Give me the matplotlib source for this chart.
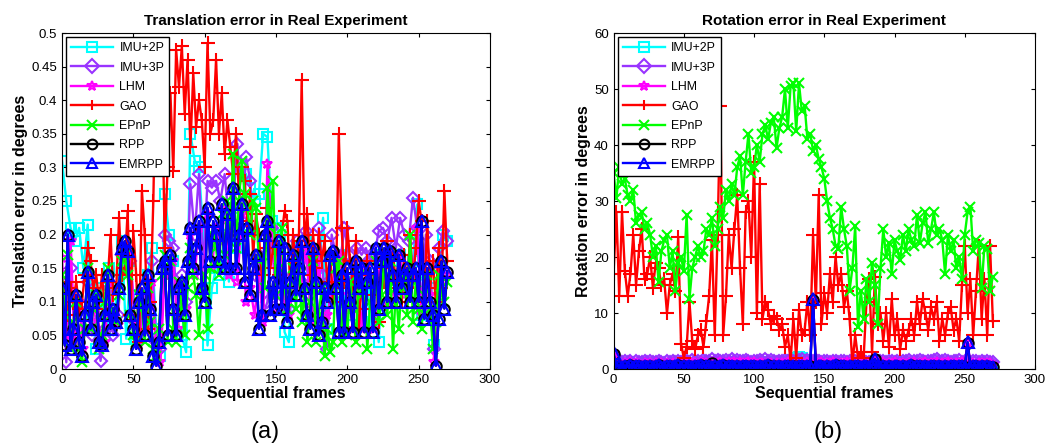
import numpy as np
import matplotlib
matplotlib.use('Agg')
import matplotlib.pyplot as plt
from matplotlib.ticker import FormatStrFormatter, MultipleLocator

plt.rcParams.update({
    'font.family': ['Liberation Sans', 'DejaVu Sans'],
    'font.size': 8.5,
    'xtick.direction': 'in',
    'ytick.direction': 'in',
    'xtick.top': True,
    'ytick.right': True,
})

# frame index: every 3rd frame for the mostly hidden curves, every 2nd for the busy ones
frames3 = list(range(0, 271, 3))
frames2 = list(range(0, 271, 2))

labels = ['IMU+2P', 'IMU+3P', 'LHM', 'GAO', 'EPnP', 'RPP', 'EMRPP']

# ---- translation error (panel a) ----
imu2p_t = [0.31, 0.25, 0.21, 0.19, 0.21, 0.15, 0.215, 0.08, 0.03, 0.12,
           0.05, 0.15, 0.07, 0.12, 0.19, 0.045, 0.16, 0.045, 0.11, 0.09,
           0.14, 0.18, 0.06, 0.02, 0.26, 0.20, 0.16, 0.07, 0.05, 0.025,
           0.35, 0.31, 0.30, 0.20, 0.035, 0.12, 0.15, 0.14, 0.20, 0.13,
           0.24, 0.18, 0.20, 0.29, 0.27, 0.25, 0.26, 0.35, 0.345, 0.22,
           0.21, 0.20, 0.055, 0.04, 0.17, 0.18, 0.15, 0.19, 0.17, 0.12,
           0.15, 0.225, 0.06, 0.12, 0.15, 0.17, 0.10, 0.13, 0.08, 0.14,
           0.07, 0.15, 0.065, 0.12, 0.04, 0.17, 0.15, 0.16, 0.12, 0.17,
           0.13, 0.15, 0.16, 0.245, 0.08, 0.14, 0.12, 0.035, 0.15, 0.20, 0.19]
imu3p_t = [0.14, 0.01, 0.15, 0.05, 0.09, 0.06, 0.13, 0.05, 0.08, 0.012,
           0.06, 0.12, 0.05, 0.08, 0.17, 0.18, 0.16, 0.07, 0.05, 0.12,
           0.07, 0.16, 0.04, 0.03, 0.20, 0.19, 0.18, 0.08, 0.14, 0.10,
           0.275, 0.20, 0.29, 0.15, 0.28, 0.27, 0.28, 0.25, 0.29, 0.22,
           0.25, 0.335, 0.22, 0.315, 0.28, 0.14, 0.17, 0.08, 0.10, 0.21,
           0.10, 0.18, 0.11, 0.09, 0.14, 0.19, 0.13, 0.205, 0.11, 0.08,
           0.21, 0.14, 0.03, 0.20, 0.17, 0.16, 0.21, 0.17, 0.13, 0.18,
           0.17, 0.18, 0.16, 0.17, 0.205, 0.21, 0.19, 0.225, 0.18, 0.225,
           0.20, 0.19, 0.255, 0.21, 0.09, 0.20, 0.16, 0.03, 0.18, 0.205, 0.19]
lhm_t = [0.165, 0.05, 0.19, 0.04, 0.10, 0.03, 0.14, 0.07, 0.09, 0.05,
         0.04, 0.13, 0.07, 0.065, 0.17, 0.18, 0.17, 0.07, 0.035, 0.09,
         0.06, 0.13, 0.03, 0.01, 0.14, 0.15, 0.16, 0.06, 0.11, 0.09,
         0.20, 0.14, 0.21, 0.11, 0.23, 0.15, 0.21, 0.19, 0.24, 0.14,
         0.26, 0.13, 0.23, 0.10, 0.12, 0.08, 0.14, 0.07, 0.305, 0.21,
         0.09, 0.18, 0.10, 0.08, 0.12, 0.16, 0.12, 0.18, 0.09, 0.07,
         0.17, 0.06, 0.08, 0.11, 0.16, 0.17, 0.06, 0.11, 0.06, 0.14,
         0.06, 0.15, 0.14, 0.06, 0.14, 0.17, 0.10, 0.17, 0.11, 0.17,
         0.11, 0.13, 0.14, 0.21, 0.08, 0.14, 0.11, 0.01, 0.15, 0.13, 0.14]
gao_t = [0.13, 0.11, 0.08, 0.12, 0.10, 0.13, 0.09, 0.10, 0.14, 0.18,
         0.16, 0.12, 0.14, 0.10, 0.14, 0.09, 0.13, 0.20, 0.11, 0.12,
         0.225, 0.14, 0.15, 0.235, 0.08, 0.205, 0.14, 0.04, 0.265, 0.20,
         0.06, 0.10, 0.25, 0.47, 0.30, 0.45, 0.18, 0.30, 0.41, 0.295,
         0.475, 0.42, 0.48, 0.38, 0.46, 0.33, 0.44, 0.36, 0.40, 0.37,
         0.30, 0.485, 0.35, 0.37, 0.46, 0.35, 0.41, 0.32, 0.37, 0.33,
         0.29, 0.35, 0.26, 0.30, 0.28, 0.22, 0.26, 0.17, 0.23, 0.20,
         0.14, 0.18, 0.24, 0.15, 0.18, 0.19, 0.14, 0.20, 0.235, 0.22,
         0.12, 0.20, 0.15, 0.19, 0.43, 0.19, 0.23, 0.14, 0.20, 0.15,
         0.20, 0.16, 0.19, 0.13, 0.17, 0.10, 0.12, 0.35, 0.21, 0.13,
         0.21, 0.16, 0.12, 0.19, 0.06, 0.13, 0.09, 0.16, 0.14, 0.11,
         0.16, 0.07, 0.15, 0.13, 0.19, 0.12, 0.17, 0.13, 0.16, 0.10,
         0.17, 0.12, 0.20, 0.13, 0.18, 0.25, 0.22, 0.10, 0.22, 0.12,
         0.16, 0.10, 0.18, 0.12, 0.265, 0.16]
epnp_t = [0.14, 0.08, 0.17, 0.03, 0.07, 0.10, 0.03, 0.01, 0.06, 0.15,
          0.06, 0.09, 0.11, 0.03, 0.05, 0.10, 0.15, 0.08, 0.09, 0.07,
          0.11, 0.16, 0.17, 0.14, 0.08, 0.05, 0.04, 0.11, 0.09, 0.04,
          0.12, 0.07, 0.03, 0.02, 0.06, 0.14, 0.17, 0.04, 0.16, 0.06,
          0.04, 0.13, 0.09, 0.05, 0.12, 0.18, 0.14, 0.11, 0.05, 0.12,
          0.14, 0.06, 0.15, 0.20, 0.18, 0.14, 0.23, 0.17, 0.25, 0.21,
          0.32, 0.18, 0.25, 0.31, 0.26, 0.24, 0.20, 0.25, 0.24, 0.16,
          0.17, 0.12, 0.27, 0.21, 0.28, 0.11, 0.15, 0.21, 0.12, 0.09,
          0.11, 0.15, 0.09, 0.17, 0.07, 0.12, 0.04, 0.10, 0.16, 0.04,
          0.08, 0.12, 0.02, 0.06, 0.025, 0.04, 0.15, 0.16, 0.04, 0.10,
          0.05, 0.13, 0.09, 0.04, 0.14, 0.11, 0.13, 0.03, 0.10, 0.13,
          0.16, 0.07, 0.11, 0.17, 0.08, 0.16, 0.03, 0.12, 0.06, 0.12,
          0.14, 0.08, 0.20, 0.07, 0.13, 0.09, 0.06, 0.11, 0.14, 0.09,
          0.03, 0.07, 0.14, 0.11, 0.10, 0.13]
emrpp_t = [0.12, 0.035, 0.20, 0.03, 0.06, 0.11, 0.04, 0.02, 0.08, 0.145,
           0.06, 0.10, 0.11, 0.04, 0.035, 0.08, 0.14, 0.06, 0.09, 0.07,
           0.12, 0.18, 0.19, 0.175, 0.08, 0.06, 0.03, 0.10, 0.12, 0.05,
           0.14, 0.09, 0.02, 0.005, 0.04, 0.15, 0.16, 0.05, 0.17, 0.09,
           0.05, 0.12, 0.13, 0.08, 0.16, 0.21, 0.15, 0.18, 0.22, 0.12,
           0.10, 0.24, 0.16, 0.22, 0.20, 0.16, 0.245, 0.15, 0.23, 0.15,
           0.27, 0.15, 0.20, 0.245, 0.13, 0.21, 0.11, 0.15, 0.17, 0.06,
           0.08, 0.20, 0.22, 0.08, 0.13, 0.09, 0.19, 0.09, 0.18, 0.07,
           0.13, 0.17, 0.11, 0.15, 0.19, 0.12, 0.08, 0.06, 0.18, 0.13,
           0.05, 0.07, 0.12, 0.10, 0.17, 0.175, 0.12, 0.055, 0.14, 0.055,
           0.15, 0.10, 0.055, 0.16, 0.12, 0.15, 0.055, 0.13, 0.15, 0.055,
           0.18, 0.09, 0.16, 0.18, 0.10, 0.175, 0.14, 0.10, 0.17, 0.12,
           0.14, 0.15, 0.10, 0.14, 0.15, 0.10, 0.22, 0.075, 0.15, 0.10,
           0.08, 0.005, 0.075, 0.16, 0.09, 0.145]
rpp_t = list(emrpp_t)  # RPP and EMRPP coincide in the figure

# ---- rotation error (panel b) ----
imu2p_r = [0.8, 0.5, 0.7, 0.4, 0.9, 0.6, 0.5, 0.8, 0.4, 0.7,
           0.6, 0.9, 0.5, 0.7, 0.4, 0.8, 0.6, 0.5, 0.7, 0.9,
           0.4, 0.6, 0.8, 0.5, 0.7, 0.6, 0.9, 0.5, 0.8, 0.7,
           0.6, 0.9, 0.7, 1.0, 0.8, 0.6, 0.9, 0.7, 1.0, 0.8,
           0.9, 0.7, 1.0, 0.8, 0.9, 1.1, 0.8, 1.0, 0.9, 1.1,
           1.0, 0.8, 1.1, 0.9, 1.0, 1.2, 0.9, 1.1, 1.0, 1.2,
           1.1, 1.3, 1.2, 1.4, 1.6, 1.9, 2.1, 2.0, 1.6, 1.2,
           1.0, 0.8, 0.9, 0.7, 0.9, 0.6, 0.8, 0.7, 0.5, 0.9,
           0.6, 0.8, 0.5, 0.7, 0.6, 0.8, 0.5, 0.9, 0.7, 0.6,
           0.8, 0.5, 0.7, 0.9, 0.6, 0.8, 0.7, 0.5, 0.9, 0.6,
           0.8, 0.7, 0.9, 0.6, 0.8, 0.5, 0.7, 0.9, 0.6, 0.8,
           0.5, 0.7, 0.6, 0.8, 0.5, 0.7, 0.9, 0.6, 0.8, 0.7,
           0.9, 0.6, 0.8, 0.5, 0.7, 0.9, 0.6, 0.8, 0.5, 0.7,
           0.6, 0.8, 0.5, 0.7, 0.6, 0.5]
imu3p_r = [2.5, 1.3, 1.5, 1.2, 1.4, 1.3, 1.5, 1.1, 1.4, 1.2,
           1.3, 1.5, 1.2, 1.4, 1.3, 1.2, 1.5, 1.3, 1.1, 1.4,
           1.2, 1.5, 1.3, 1.4, 1.2, 1.5, 1.4, 1.3, 1.6, 1.4,
           1.5, 1.3, 1.6, 1.4, 1.5, 1.7, 1.4, 1.6, 1.5, 1.4,
           1.6, 1.5, 1.7, 1.5, 1.6, 1.4, 1.5, 1.6, 1.4, 1.3,
           1.5, 1.4, 1.6, 1.5, 1.7, 1.4, 1.6, 1.5, 1.3, 1.5,
           1.4, 1.6, 1.5, 1.3, 1.5, 1.4, 1.6, 1.7, 1.5, 1.6,
           1.5, 1.4, 1.6, 1.5, 1.3, 1.5, 1.4, 1.2, 1.4, 1.5,
           1.3, 1.5, 1.4, 1.3, 1.5, 1.2, 1.4, 1.3, 1.5, 1.4,
           1.2, 1.3, 1.5, 1.4, 1.3, 1.5, 1.4, 1.2, 1.4, 1.5,
           1.3, 1.4, 1.2, 1.5, 1.4, 1.6, 1.3, 1.5, 1.4, 1.6,
           1.5, 1.3, 1.5, 1.4, 1.6, 1.7, 1.5, 1.4, 1.6, 1.5,
           1.3, 1.5, 1.4, 1.6, 1.3, 1.5, 1.4, 1.3, 1.5, 1.4,
           1.2, 1.4, 1.3, 1.5, 1.3, 1.2]
lhm_r = [2.4, 0.9, 1.1, 0.8, 1.0, 0.9, 1.2, 0.7, 1.0, 0.9,
         0.8, 1.1, 0.9, 1.0, 0.8, 1.1, 0.9, 1.0, 0.7, 1.1,
         0.9, 1.0, 0.8, 1.1, 0.9, 1.0, 1.2, 0.9, 1.1, 1.0,
         0.9, 1.2, 1.0, 1.1, 0.9, 1.2, 1.0, 1.1, 1.3, 1.0,
         1.1, 1.2, 1.0, 1.3, 1.1, 1.2, 1.0, 1.1, 1.2, 1.0,
         1.2, 0.9, 1.1, 1.0, 0.9, 1.1, 1.0, 0.8, 1.1, 0.9,
         1.0, 1.1, 1.2, 1.0, 1.1, 0.9, 1.0, 1.1, 0.9, 1.2,
         1.0, 12.0, 1.1, 1.0, 1.2, 0.9, 1.1, 1.0, 1.2, 1.1,
         0.9, 1.1, 1.0, 1.2, 1.0, 0.9, 1.1, 1.0, 1.2, 0.9,
         1.1, 1.0, 0.9, 1.6, 1.1, 1.0, 1.2, 0.9, 1.1, 1.0,
         1.2, 0.9, 1.1, 1.0, 0.9, 1.1, 1.0, 1.2, 0.9, 1.1,
         1.0, 1.2, 0.9, 1.1, 1.0, 1.2, 0.9, 1.1, 1.0, 1.2,
         1.1, 0.9, 1.1, 1.0, 1.2, 1.0, 4.6, 1.1, 1.0, 0.9,
         1.1, 1.0, 0.9, 1.1, 1.0, 0.8]
gao_r = [17, 28, 13, 28, 17.5, 13, 17, 24, 15, 21,
         25, 16, 17, 20, 14.5, 19, 18, 15, 16, 10,
         15, 17, 14, 23.5, 4.5, 2, 4, 12, 5, 3.5,
         6, 7, 4, 8.5, 13, 23, 6, 24, 47, 6,
         13, 24, 18, 25, 31, 18, 8, 28, 30, 20,
         37, 10, 33, 9, 12, 10.5, 8, 9.5, 9, 7,
         8, 4, 6, 1.5, 9, 2, 10.5, 6, 7, 12,
         6, 24, 12, 31, 8, 13.5, 10, 17, 12, 20,
         15, 17, 11, 14, 9, 1, 6, 2, 3, 2,
         12, 16, 3, 16.5, 8, 10, 5, 10, 4, 12.5,
         6, 9, 3.5, 7, 5, 7, 9, 6, 12, 8,
         12.5, 10, 7, 11, 9, 12, 5, 9, 6, 10,
         11, 7, 9, 5, 15, 22, 10, 16, 6, 14,
         22, 9, 16, 6, 22, 8.5]
epnp_r = [35, 30.5, 36, 33, 34, 31, 30, 32, 26, 27.5,
          28, 25, 26, 24, 20, 22, 15.5, 21, 23, 24,
          18, 21, 14, 19, 20, 17.5, 27.5, 12.5, 18, 20,
          22, 20, 21, 25, 24, 27, 22, 25, 29, 27,
          32, 30, 33, 31, 36, 38, 31, 37, 42, 35,
          36, 40, 37, 42, 43.5, 41, 44, 45, 39.5, 43,
          45, 50, 43, 50.5, 51, 42.5, 51, 46, 47, 41,
          42, 39, 40, 37.5, 36, 34, 30, 27, 25, 22,
          21.5, 29, 25, 22, 14, 18, 25.5, 7.5, 14, 9,
          16, 12, 19, 15, 8, 18, 25, 20, 22.5, 17,
          23, 21, 19.5, 24, 21, 25, 23, 22, 27.5, 22.5,
          26, 28, 22.5, 25, 28, 24, 25, 23, 17, 24,
          21, 23, 18, 20, 16, 24, 28, 29, 21, 23,
          22.5, 14.5, 22, 21.5, 14, 16.5]
rpp_r = [2.6, 0.4, 0.6, 0.3, 0.5, 0.4, 0.7, 0.3, 0.5, 0.6,
         0.4, 0.5, 0.3, 0.6, 0.4, 0.5, 0.7, 0.4, 0.3, 0.5,
         0.6, 0.4, 0.5, 0.7, 0.4, 0.6, 0.3, 0.5, 0.4, 0.6,
         0.5, 0.7, 0.4, 0.6, 0.5, 1.0, 0.6, 0.4, 0.5, 0.7,
         0.4, 0.6, 0.5, 0.3, 0.5, 0.4, 0.6, 0.5, 0.4, 0.6,
         0.5, 0.3, 0.6, 0.4, 0.5, 0.7, 0.4, 0.5, 0.3, 0.6,
         0.4, 0.5, 0.6, 0.3, 0.5, 0.4, 0.6, 0.5, 0.4, 0.6,
         0.5, 12.3, 0.4, 0.6, 0.5, 0.3, 0.6, 0.4, 0.5, 0.7,
         0.4, 0.6, 0.5, 0.3, 0.5, 0.4, 0.6, 0.5, 0.4, 0.6,
         0.5, 0.3, 0.6, 1.8, 0.5, 0.4, 0.6, 0.3, 0.5, 0.4,
         0.6, 0.5, 0.3, 0.6, 0.4, 0.5, 0.7, 0.4, 0.5, 0.6,
         0.3, 0.5, 0.4, 0.6, 0.5, 0.4, 0.6, 0.3, 0.5, 0.4,
         0.6, 0.5, 0.4, 0.6, 0.5, 0.3, 4.7, 0.4, 0.6, 0.5,
         0.3, 0.5, 0.4, 0.6, 0.4, 0.3]
emrpp_r = [2.8, 0.4, 0.6, 0.3, 0.5, 0.4, 0.7, 0.3, 0.5, 0.6,
           0.4, 0.5, 0.3, 0.6, 0.4, 0.5, 0.7, 0.4, 0.3, 0.5,
           0.6, 0.4, 0.5, 0.7, 0.4, 0.6, 0.3, 0.5, 0.4, 0.6,
           0.5, 0.7, 0.4, 0.6, 0.5, 0.3, 0.6, 0.4, 0.5, 0.7,
           0.4, 0.6, 0.5, 0.3, 0.5, 0.4, 0.6, 0.5, 0.4, 0.6,
           0.5, 0.3, 0.6, 0.4, 0.5, 0.7, 0.4, 0.5, 0.3, 0.6,
           0.4, 0.5, 0.6, 0.3, 0.5, 0.4, 0.6, 0.5, 0.4, 0.6,
           0.5, 12.5, 0.4, 0.6, 0.5, 0.3, 0.6, 0.4, 0.5, 0.7,
           0.4, 0.6, 0.5, 0.3, 0.5, 0.4, 0.6, 0.5, 0.4, 0.6,
           0.5, 0.3, 0.6, 1.8, 0.5, 0.4, 0.6, 0.3, 0.5, 0.4,
           0.6, 0.5, 0.3, 0.6, 0.4, 0.5, 0.7, 0.4, 0.5, 0.6,
           0.3, 0.5, 0.4, 0.6, 0.5, 0.4, 0.6, 0.3, 0.5, 0.4,
           0.6, 0.5, 0.4, 0.6, 0.5, 0.3, 4.8, 0.4, 0.6, 0.5,
           0.3, 0.5, 0.4, 0.6, 0.4, 0.3]

colors = ['#00FFFF', '#9933FF', '#FF00FF', '#FF0000', '#00FF00', '#000000', '#0000FF']
markers = ['s', 'D', '*', '+', 'x', 'o', '^']
msizes = [7, 6.5, 7, 10, 6.5, 7.5, 8.5]


def draw_panel(ax, series, title, ylabel, ymax, ystep, fmt):
    for (xs, vals), lab, c, m, ms in zip(series, labels, colors, markers, msizes):
        ax.plot(xs, vals, color=c, marker=m, markersize=ms, markerfacecolor='none',
                markeredgewidth=1.5, linewidth=1.7, label=lab)
    ax.set_xlim(0, 300)
    ax.set_ylim(0, ymax)
    ax.xaxis.set_major_locator(MultipleLocator(50))
    ax.yaxis.set_major_locator(MultipleLocator(ystep))
    ax.yaxis.set_major_formatter(FormatStrFormatter(fmt))
    ax.tick_params(labelsize=9.5, length=3, width=0.8)
    ax.set_title(title, fontsize=11, fontweight='bold', pad=6)
    ax.set_xlabel('Sequential frames', fontsize=11.5, fontweight='bold', labelpad=0)
    ax.set_ylabel(ylabel, fontsize=11.5, fontweight='bold', labelpad=2)
    leg = ax.legend(loc='upper left', fontsize=8.9, handlelength=3.4, labelspacing=0.6,
                    borderpad=0.4, handletextpad=0.5, borderaxespad=0.35,
                    fancybox=False, framealpha=1, edgecolor='black')
    leg.get_frame().set_linewidth(1.0)
    for h in leg.legend_handles:
        h.set_markersize(7)


fig = plt.figure(figsize=(10.51, 4.47), dpi=100)
ax1 = fig.add_axes([62 / 1051, 78 / 447, 428 / 1051, 336 / 447])
ax2 = fig.add_axes([613.6 / 1051, 78 / 447, 421.4 / 1051, 336 / 447])

draw_panel(ax1, [(frames3, imu2p_t), (frames3, imu3p_t), (frames3, lhm_t), (frames2, gao_t),
                 (frames2, epnp_t), (frames2, rpp_t), (frames2, emrpp_t)],
           'Translation error in Real Experiment', 'Translation error in degrees',
           0.5, 0.05, '%g')
draw_panel(ax2, [(frames2, imu2p_r), (frames2, imu3p_r), (frames2, lhm_r), (frames2, gao_r),
                 (frames2, epnp_r), (frames2, rpp_r), (frames2, emrpp_r)],
           'Rotation error in Real Experiment', 'Rotation error in degrees',
           60, 10, '%g')

fig.text(265 / 1051, 1 - 432 / 447, '(a)', fontsize=17, ha='center', va='center')
fig.text(828 / 1051, 1 - 432 / 447, '(b)', fontsize=17, ha='center', va='center')

fig.savefig('out.png', dpi=100)
